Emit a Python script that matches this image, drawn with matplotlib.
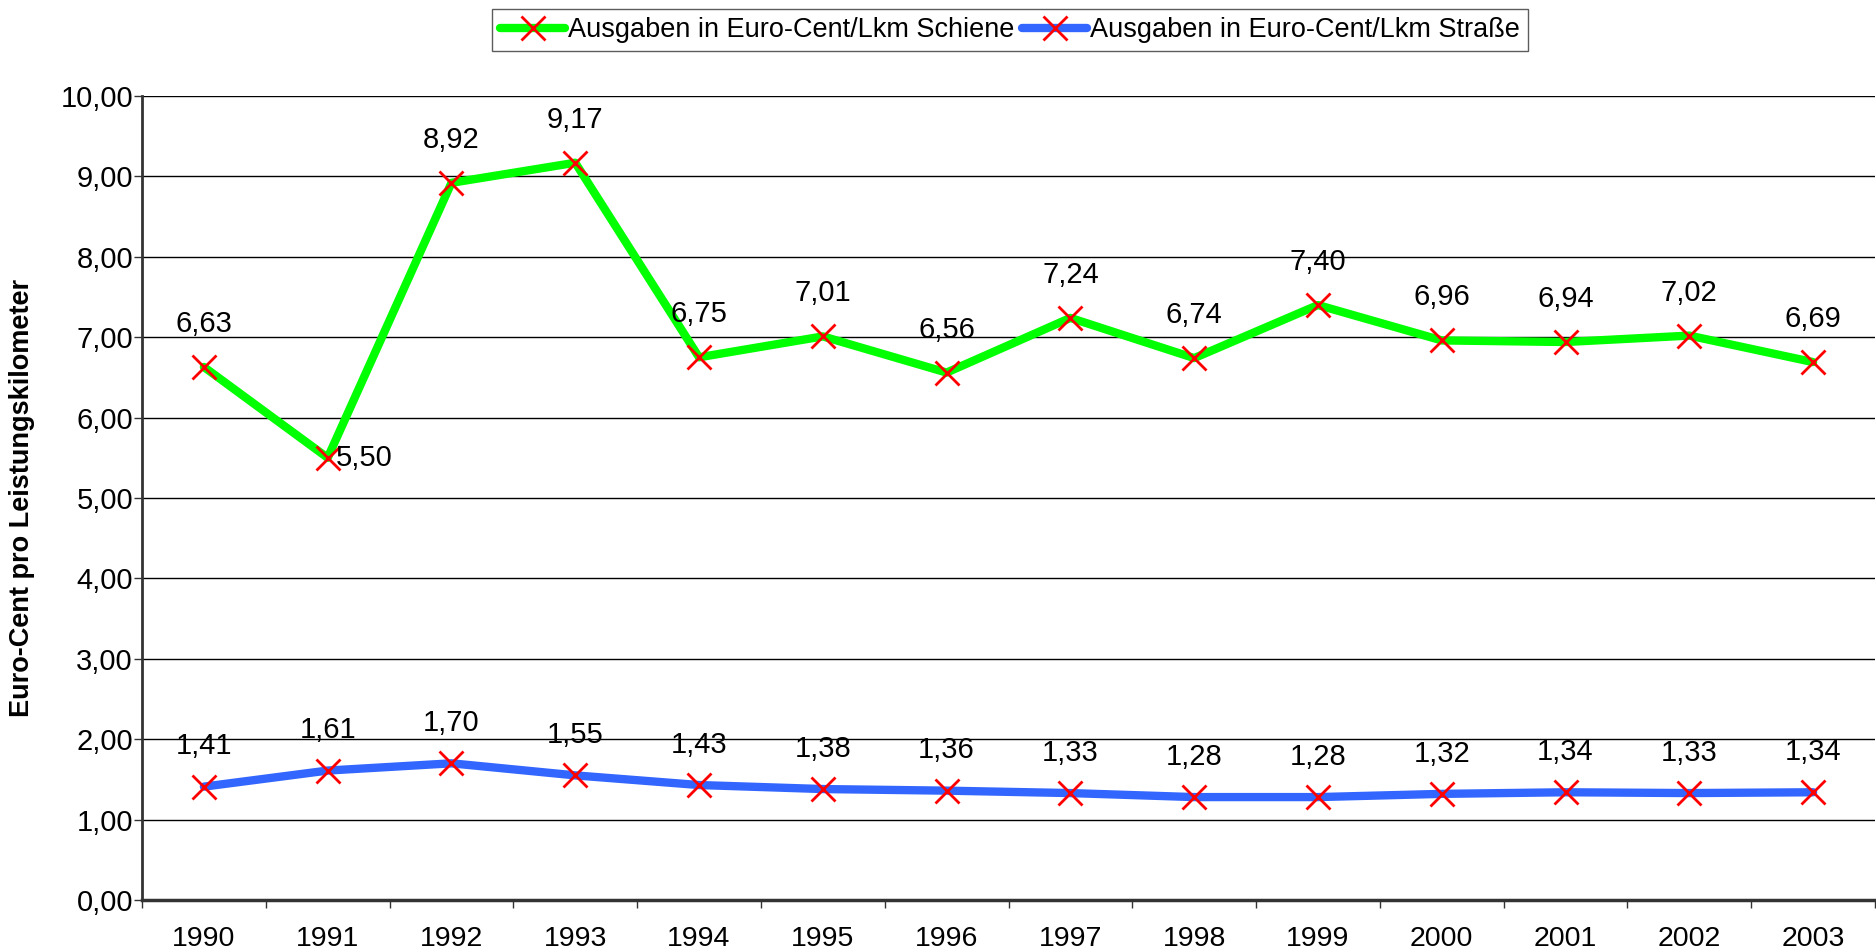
import matplotlib.pyplot as plt
import numpy as np

plt.rcParams["font.family"] = ["Liberation Sans", "DejaVu Sans"]

years = ["1990", "1991", "1992", "1993", "1994", "1995", "1996",
         "1997", "1998", "1999", "2000", "2001", "2002", "2003"]
schiene = [6.63, 5.50, 8.92, 9.17, 6.75, 7.01, 6.56, 7.24, 6.74, 7.40, 6.96, 6.94, 7.02, 6.69]
strasse = [1.41, 1.61, 1.70, 1.55, 1.43, 1.38, 1.36, 1.33, 1.28, 1.28, 1.32, 1.34, 1.33, 1.34]
yticks = [0, 1, 2, 3, 4, 5, 6, 7, 8, 9, 10]


def de(v):
    return f"{v:.2f}".replace(".", ",")


fig = plt.figure(figsize=(18.76, 9.52), dpi=100)
ax = fig.add_axes([142 / 1876, 52 / 952, 1733 / 1876, 804 / 952])

x = np.arange(len(years)) + 0.5
ax.plot(x, schiene, color="#00ff00", linewidth=6, solid_capstyle="round",
        marker="x", markersize=17, markeredgecolor="#ff0000", markeredgewidth=2,
        label="Ausgaben in Euro-Cent/Lkm Schiene", zorder=3)
ax.plot(x, strasse, color="#3366ff", linewidth=6, solid_capstyle="round",
        marker="x", markersize=17, markeredgecolor="#ff0000", markeredgewidth=2,
        label="Ausgaben in Euro-Cent/Lkm Straße", zorder=3)

for i, v in enumerate(schiene):
    if years[i] == "1991":
        ax.annotate(de(v), (x[i], v), xytext=(6, 0), textcoords="offset points",
                    ha="left", va="center", fontsize=21)
    else:
        ax.annotate(de(v), (x[i], v), xytext=(0, 31), textcoords="offset points",
                    ha="center", va="center", fontsize=21)
for i, v in enumerate(strasse):
    ax.annotate(de(v), (x[i], v), xytext=(0, 29), textcoords="offset points",
                ha="center", va="center", fontsize=21)

ax.set_xlim(0, len(years))
ax.set_ylim(0, 10)
ax.set_yticks(yticks)
ax.set_yticklabels([de(t) for t in yticks], fontsize=21)
ax.set_xticks(np.arange(len(years) + 1))
ax.set_xticklabels([])
ax.set_xticks(x, minor=True)
ax.set_xticklabels(years, minor=True, fontsize=20.5)
ax.tick_params(axis="x", which="minor", length=0, pad=19)
ax.tick_params(axis="x", which="major", length=6, width=1, color="#333333")
ax.tick_params(axis="y", length=6, width=1, color="#333333", pad=0.5)

ax.grid(axis="y", color="black", linewidth=1)
ax.set_axisbelow(True)
for s in ["top", "right"]:
    ax.spines[s].set_visible(False)
ax.spines["left"].set_color("#333333")
ax.spines["left"].set_linewidth(2)
ax.spines["bottom"].set_color("#333333")
ax.spines["bottom"].set_linewidth(2.5)

ax.set_ylabel("Euro-Cent pro Leistungskilometer", fontsize=19.5, fontweight="bold")
ax.yaxis.set_label_coords(-0.0617, 0.5)

fig.legend(loc="center", bbox_to_anchor=(1010 / 1876, 1 - 30 / 952), ncol=2,
           fontsize=19.5, frameon=True, fancybox=False, edgecolor="#333333",
           handlelength=2.4, handletextpad=0.1, columnspacing=0.3, borderpad=0.3,
           borderaxespad=0)

fig.savefig("out.png", dpi=100)
